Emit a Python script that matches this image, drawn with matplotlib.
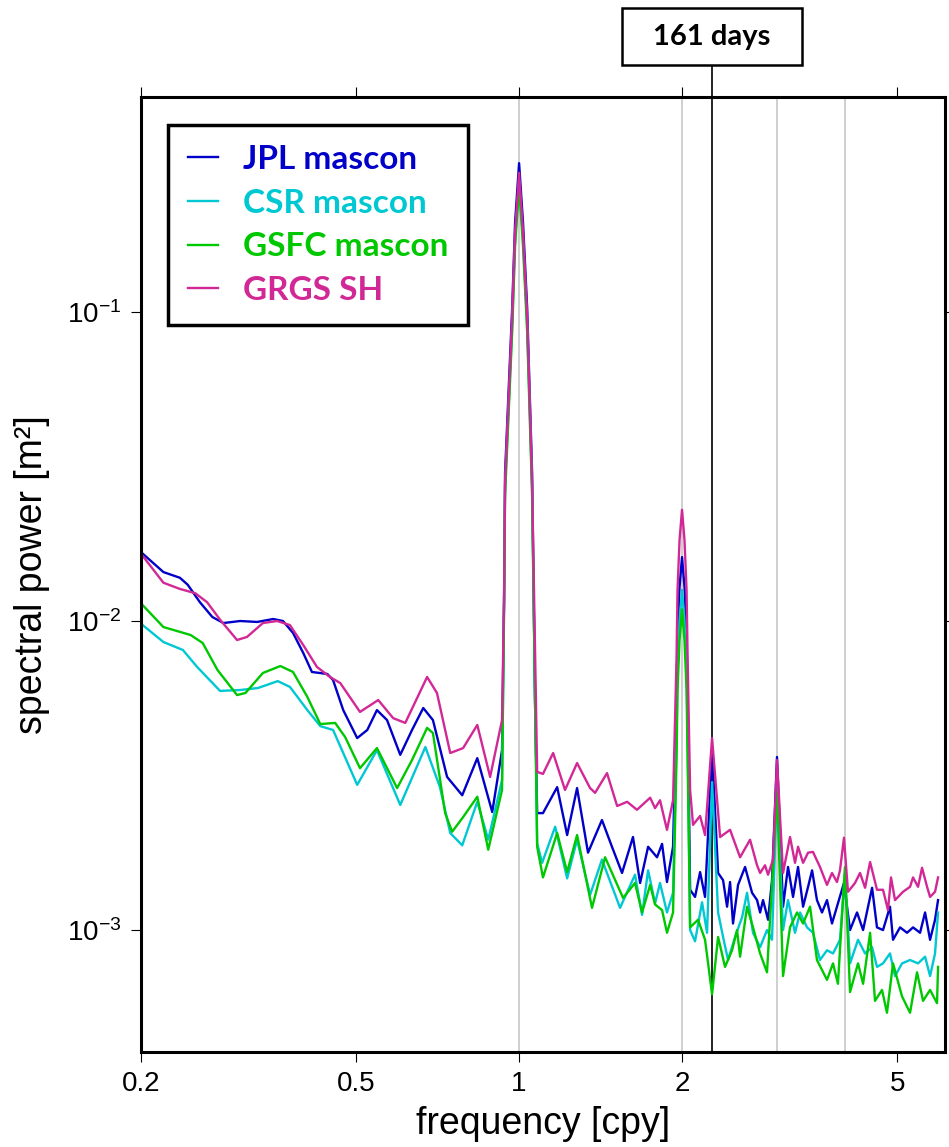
import matplotlib
matplotlib.use("Agg")
import matplotlib.pyplot as plt
from matplotlib.patches import Rectangle
from matplotlib.ticker import NullLocator

plt.rcParams['font.family'] = ['Liberation Sans', 'DejaVu Sans']
plt.rcParams['mathtext.fontset'] = 'custom'
plt.rcParams['mathtext.rm'] = 'Liberation Sans'
plt.rcParams['mathtext.it'] = 'Liberation Sans:italic'
plt.rcParams['mathtext.bf'] = 'Liberation Sans:bold'

# frequency [cpy] and spectral power [m^2]
freq_jpl = [0.200, 0.220, 0.236, 0.244, 0.257, 0.271, 0.284, 0.305, 0.328, 0.351, 0.366, 0.382, 0.399, 0.414, 0.442,
            0.453, 0.473, 0.502, 0.524, 0.546, 0.570, 0.603, 0.634, 0.665, 0.693, 0.736, 0.785, 0.837, 0.892, 0.930,
            0.938, 0.942, 0.971, 0.983, 1.000, 1.017, 1.035, 1.057, 1.070, 1.080,
            1.107, 1.176, 1.227, 1.280, 1.341, 1.423, 1.485, 1.550, 1.624, 1.674, 1.732, 1.799, 1.838, 1.877, 1.926,
            1.955, 1.963, 1.980, 2.001, 2.022, 2.040, 2.049,
            2.071, 2.115, 2.161, 2.207, 2.274, 2.333, 2.383, 2.424, 2.455, 2.486, 2.540, 2.617, 2.696, 2.754, 2.790,
            2.825, 2.886, 2.935, 2.998, 3.076, 3.142, 3.210, 3.279, 3.350, 3.422, 3.481, 3.554, 3.631, 3.709, 3.789,
            3.886, 3.987, 4.091, 4.215, 4.325, 4.494, 4.589, 4.708, 4.850, 4.913, 5.062, 5.215, 5.350, 5.512, 5.631,
            5.752, 5.875, 5.951]
pow_jpl = [0.0167, 0.0144, 0.0138, 0.0131, 0.0115, 0.0103, 0.00985, 0.0100, 0.00993, 0.01015, 0.0100, 0.00915, 0.00788,
           0.00684, 0.00674, 0.00644, 0.00515, 0.00418, 0.00444, 0.00515, 0.00478, 0.00369, 0.00444, 0.00523, 0.00478,
           0.00313, 0.00273, 0.00360, 0.00241, 0.00382,
           0.0117, 0.0301, 0.103, 0.194, 0.303, 0.194, 0.103, 0.0301, 0.00555, 0.00239,
           0.00239, 0.00290, 0.00203, 0.00288, 0.00178, 0.00227, 0.00186, 0.00153, 0.00200, 0.00142, 0.00186, 0.00172,
           0.00190, 0.00143, 0.00186,
           0.00539, 0.00888, 0.0129, 0.0161, 0.0129, 0.00888, 0.00539,
           0.00135, 0.00128, 0.00154, 0.00128, 0.00383, 0.00153, 0.00145, 0.00119, 0.00143, 0.00105, 0.00140, 0.00160,
           0.00132, 0.00125, 0.00114, 0.00125, 0.00108, 0.00145, 0.00363, 0.00119, 0.00160, 0.00128, 0.00160, 0.00119,
           0.00138, 0.00156, 0.00125, 0.00114, 0.00125, 0.00105, 0.00122, 0.00142, 0.00100, 0.00114, 0.00100, 0.00137,
           0.00102, 0.00100, 0.00119, 0.00093, 0.00102, 0.00098, 0.00102, 0.00098, 0.00114, 0.00093, 0.00108, 0.00125]

freq_csr = [0.200, 0.220, 0.239, 0.254, 0.280, 0.305, 0.329, 0.358, 0.377, 0.406, 0.429, 0.453, 0.473, 0.502, 0.546,
            0.603, 0.671, 0.714, 0.746, 0.785, 0.837, 0.877, 0.930,
            0.938, 0.942, 0.971, 0.983, 1.000, 1.017, 1.035, 1.057, 1.080,
            1.103, 1.166, 1.227, 1.280, 1.353, 1.423, 1.537, 1.638, 1.688, 1.732, 1.784, 1.822, 1.877, 1.926,
            1.955, 1.963, 1.980, 2.001, 2.022, 2.040, 2.049,
            2.071, 2.115, 2.179, 2.226, 2.274, 2.333, 2.383, 2.434, 2.508, 2.584, 2.639, 2.707, 2.790, 2.873, 2.935,
            2.998, 3.076, 3.142, 3.237, 3.307, 3.407, 3.494, 3.600, 3.709, 3.805, 3.920, 4.004, 4.091, 4.233, 4.362,
            4.494, 4.589, 4.708, 4.850, 4.955, 5.105, 5.282, 5.465, 5.631, 5.752, 5.875, 5.951]
pow_csr = [0.0098, 0.00855, 0.00806, 0.0071, 0.00594, 0.00598, 0.00607, 0.00639, 0.00612, 0.00515, 0.00457, 0.00444,
           0.00374, 0.00295, 0.00382, 0.00254, 0.00391, 0.0029, 0.00206, 0.00188, 0.0026, 0.00196, 0.00306,
           0.0112, 0.027, 0.091, 0.171, 0.267, 0.171, 0.091, 0.027, 0.00191,
           0.00165, 0.00216, 0.00147, 0.00196, 0.00130, 0.00169, 0.00118, 0.00151, 0.00112, 0.00156, 0.00122, 0.00142,
           0.00114, 0.00132,
           0.00421, 0.00694, 0.0100, 0.0126, 0.0100, 0.00694, 0.00421,
           0.00100, 0.00092, 0.00123, 0.00098, 0.00301, 0.00114, 0.00095, 0.00080, 0.00095, 0.00110, 0.00132, 0.00098,
           0.00088, 0.00100, 0.00093, 0.00290, 0.00100, 0.00125, 0.00098, 0.00114, 0.00102, 0.00098, 0.00080, 0.00086,
           0.00084, 0.00093, 0.00153, 0.00078, 0.00093, 0.00084, 0.00088, 0.00076, 0.00078, 0.00084, 0.00071, 0.00078,
           0.00080, 0.00078, 0.00082, 0.00071, 0.00084, 0.00114]

freq_gsfc = [0.200, 0.220, 0.247, 0.260, 0.277, 0.301, 0.312, 0.336, 0.362, 0.382, 0.406, 0.429, 0.457, 0.477, 0.508,
             0.546, 0.595, 0.634, 0.676, 0.693, 0.730, 0.752, 0.788, 0.837, 0.877, 0.930,
             0.938, 0.942, 0.971, 0.983, 1.000, 1.017, 1.035, 1.057, 1.080,
             1.107, 1.176, 1.227, 1.280, 1.364, 1.442, 1.557, 1.638, 1.688, 1.747, 1.784, 1.838, 1.877, 1.926,
             1.955, 1.963, 1.980, 2.001, 2.022, 2.040, 2.049,
             2.071, 2.142, 2.207, 2.274, 2.333, 2.403, 2.476, 2.529, 2.562, 2.639, 2.707, 2.790, 2.873, 2.948, 2.998,
             3.076, 3.169, 3.265, 3.350, 3.451, 3.554, 3.709, 3.805, 3.886, 4.004, 4.091, 4.233, 4.325, 4.456, 4.550,
             4.688, 4.788, 4.913, 5.105, 5.282, 5.442, 5.583, 5.752, 5.925, 5.951]
pow_gsfc = [0.0114, 0.00956, 0.00901, 0.00849, 0.00694, 0.00576, 0.00585, 0.00679, 0.00715, 0.00684, 0.00568, 0.00464,
            0.00468, 0.00421, 0.00334, 0.00388, 0.00288, 0.00355, 0.00451, 0.00434, 0.00239, 0.00208, 0.00232,
            0.00270, 0.00182, 0.00284,
            0.0110, 0.0255, 0.086, 0.163, 0.254, 0.163, 0.086, 0.0255, 0.00186,
            0.00148, 0.00206, 0.00154, 0.00203, 0.00118, 0.00172, 0.00127, 0.00142, 0.00114, 0.00140, 0.00121,
            0.00116, 0.00098, 0.00114,
            0.00363, 0.00598, 0.00868, 0.0109, 0.00868, 0.00598, 0.00363,
            0.00102, 0.00108, 0.00093, 0.00062, 0.00095, 0.00076, 0.00086, 0.00100, 0.00082, 0.00119, 0.00102,
            0.00084, 0.00073, 0.00160, 0.00284, 0.00071, 0.00102, 0.00114, 0.00105, 0.00119, 0.00080, 0.00069,
            0.00078, 0.00067, 0.00160, 0.00063, 0.00078, 0.00067, 0.00098, 0.00059, 0.00064, 0.00054, 0.00078,
            0.00061, 0.00054, 0.00073, 0.00059, 0.00064, 0.00058, 0.00076]

freq_grgs = [0.200, 0.220, 0.236, 0.252, 0.265, 0.280, 0.301, 0.314, 0.336, 0.357, 0.377, 0.399, 0.423, 0.447, 0.467,
             0.508, 0.549, 0.585, 0.616, 0.676, 0.705, 0.746, 0.788, 0.837, 0.884, 0.930,
             0.938, 0.942, 0.971, 0.983, 1.000, 1.017, 1.035, 1.057, 1.080,
             1.107, 1.156, 1.216, 1.280, 1.353, 1.382, 1.454, 1.518, 1.584, 1.652, 1.747, 1.784, 1.822, 1.877, 1.926,
             1.955, 1.963, 1.980, 2.001, 2.022, 2.040, 2.049, 2.071,
             2.097, 2.161, 2.207, 2.274, 2.353, 2.455, 2.562, 2.673, 2.754, 2.790, 2.849, 2.886, 2.948, 2.998, 3.076,
             3.169, 3.237, 3.279, 3.350, 3.422, 3.494, 3.600, 3.709, 3.789, 3.870, 3.920, 3.987, 4.056, 4.179, 4.269,
             4.362, 4.456, 4.589, 4.708, 4.809, 4.871, 4.955, 5.127, 5.282, 5.350, 5.465, 5.559, 5.679, 5.752, 5.875,
             5.951]
pow_grgs = [0.0165, 0.0133, 0.0127, 0.0123, 0.0115, 0.0101, 0.00868, 0.00888, 0.00985, 0.0100, 0.0097, 0.00836, 0.0071,
            0.00659, 0.0063, 0.00508, 0.00555, 0.00485, 0.00468, 0.00659, 0.00585, 0.00374, 0.00388, 0.00461, 0.00313,
            0.00478,
            0.0117, 0.028, 0.096, 0.180, 0.282, 0.180, 0.096, 0.028, 0.00325,
            0.00320, 0.00374, 0.00284, 0.00347, 0.00288, 0.00278, 0.00322, 0.00252, 0.00260, 0.00245, 0.00268,
            0.00248, 0.00263, 0.00211, 0.00263,
            0.00765, 0.0126, 0.0183, 0.0229, 0.0183, 0.0126, 0.00765, 0.00284,
            0.00219, 0.00234, 0.00203, 0.00418, 0.00200, 0.00211, 0.00172, 0.00196, 0.00162, 0.00153, 0.00162,
            0.00151, 0.00169, 0.00355, 0.00153, 0.00200, 0.00165, 0.00186, 0.00165, 0.00178, 0.00179, 0.00160,
            0.00140, 0.00153, 0.00143, 0.00156, 0.00199, 0.00133, 0.00142, 0.00153, 0.00137, 0.00166, 0.00135,
            0.00135, 0.00116, 0.00148, 0.00125, 0.00133, 0.00138, 0.00148, 0.00138, 0.00159, 0.00138, 0.00128,
            0.00133, 0.00148]

labels = ['JPL mascon', 'CSR mascon', 'GSFC mascon', 'GRGS SH']
colors = ['#0000c8', '#00c8d2', '#00c800', '#d22896']

harmonics = [1, 2, 3, 4]          # gray reference lines [cpy]
period_days = 161
f161 = 365.25 / period_days

xticks = [0.2, 0.5, 1, 2, 5]
xticklabels = ['0.2', '0.5', '1', '2', '5']
yticks = [1e-3, 1e-2, 1e-1]

fig = plt.figure(figsize=(9.49, 11.47), dpi=100)
ax = fig.add_axes([0.1486, 0.0828, 0.8472, 0.8326])

for h in harmonics:
    ax.axvline(h, color='#cccccc', lw=1.3, zorder=1)
ax.axvline(f161, color='black', lw=1.2, zorder=1)

series = [(freq_jpl, pow_jpl), (freq_csr, pow_csr), (freq_gsfc, pow_gsfc), (freq_grgs, pow_grgs)]
for (f, p), lab, c in zip(series, labels, colors):
    ax.plot(f, p, color=c, lw=1.7, label=lab, zorder=2)

ax.set_xscale('log')
ax.set_yscale('log')
ax.set_xlim(0.2, 6.13)
ax.set_ylim(4.03e-4, 0.496)
ax.set_xticks(xticks)
ax.set_xticklabels(xticklabels)
ax.set_yticks(yticks)
ax.xaxis.set_minor_locator(NullLocator())
ax.yaxis.set_minor_locator(NullLocator())
ax.tick_params(which='major', direction='out', length=7, width=0.8, top=True, right=True,
               labelsize=20, pad=7)
for s in ax.spines.values():
    s.set_linewidth(2.2)

ax.set_xlabel('frequency [cpy]', fontsize=27, labelpad=6)
ax.set_ylabel('spectral power [m²]', fontsize=27, labelpad=12)

leg = ax.legend(loc='upper left', bbox_to_anchor=(0.0336, 0.9707), borderaxespad=0,
                prop=dict(family='Lato', weight='bold', size=24), handlelength=0.9,
                handletextpad=0.75, labelspacing=0.44, borderpad=0.6, fancybox=False,
                edgecolor='black', framealpha=1)
leg.get_frame().set_linewidth(2.5)
for t, ln in zip(leg.get_texts(), leg.get_lines()):
    t.set_color(ln.get_color())

# 161-day marker box above the frame
trans = ax.get_xaxis_transform()
ax.plot([f161, f161], [1.0, 1.0335], transform=trans, color='black', lw=1.2, clip_on=False)
ax.add_artist(Rectangle((0.6554, 0.9433), 0.1897, 0.0497, transform=fig.transFigure,
                        facecolor='white', edgecolor='black', lw=1.8, clip_on=False, zorder=5))
ax.text(f161, 1.063, '161 days', transform=trans, ha='center', va='center',
        fontsize=21, fontweight='bold', family='Lato', zorder=6, clip_on=False)

fig.savefig('out.png', dpi=100)
